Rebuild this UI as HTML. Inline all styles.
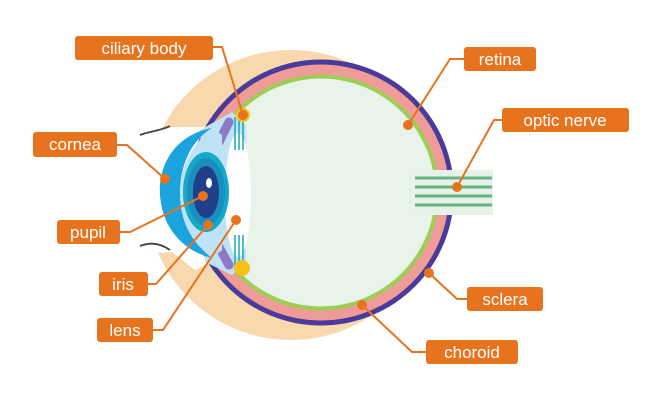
<!DOCTYPE html>
<html><head><meta charset="utf-8"><style>
html,body{margin:0;padding:0;background:#fff;}
svg{display:block;}
text{font-family:"Liberation Sans",sans-serif;font-size:17px;fill:#fff;}
</style></head><body>
<svg width="650" height="401" viewBox="0 0 650 401" xmlns="http://www.w3.org/2000/svg">
<!-- beige -->
<circle cx="291" cy="195" r="145" fill="#f8d8ad"/>
<polygon points="120,142 150,134 172,127 205,127 215,260 195,270 172,252 120,255" fill="#fff"/>
<!-- eye layers -->
<circle cx="321" cy="192.5" r="133" fill="#4a3a9a"/>
<circle cx="321" cy="192.5" r="128" fill="#ef9c98"/>
<circle cx="321" cy="192.5" r="118" fill="#9ccd54"/>
<circle cx="321" cy="192.5" r="114" fill="#e8f3ea"/>
<!-- optic nerve -->
<rect x="415" y="170" width="78" height="45" fill="#e6f2e8"/>
<rect x="415" y="176.5" width="77" height="3" fill="#66b483"/>
<rect x="415" y="185.5" width="77" height="3" fill="#66b483"/>
<rect x="415" y="194.5" width="77" height="3" fill="#66b483"/>
<rect x="415" y="203.5" width="77" height="3" fill="#66b483"/>
<!-- front light-blue zone -->
<path d="M200,130 L232,112 L246,125 L246,262 L232,275 L205,262 Z" fill="#bfe2f5"/>
<!-- lens white -->
<ellipse cx="238" cy="195" rx="13" ry="62" fill="#fff"/>
<!-- ciliary purple bands -->
<line x1="229" y1="122" x2="215" y2="150" stroke="#8c7ac6" stroke-width="9" stroke-linecap="round"/>
<line x1="215" y1="240" x2="229" y2="265" stroke="#8c7ac6" stroke-width="9" stroke-linecap="round"/>
<!-- ciliary fibers -->
<g stroke="#18a8b8" stroke-width="1.5">
<line x1="235" y1="117" x2="235" y2="150"/><line x1="239" y1="117" x2="239" y2="150"/><line x1="243" y1="117" x2="243" y2="150"/>
<line x1="235" y1="235" x2="235" y2="268"/><line x1="239" y1="235" x2="239" y2="268"/><line x1="243" y1="235" x2="243" y2="268"/>
</g>
<circle cx="243" cy="115" r="7" fill="#f5c21c"/>
<circle cx="242" cy="268" r="8" fill="#f5c21c"/>
<!-- cornea -->
<path d="M212,128 C175,135 158,165 160,195 C162,225 180,250 212,258 C195,245 180,225 180,193 C180,160 195,138 212,128 Z" fill="#1aa3dd"/>
<path d="M212,128 C198,140 180,160 180,193 C180,225 195,245 212,258 L222,250 L222,135 Z" fill="#bfe2f5"/>
<!-- iris -->
<ellipse cx="206" cy="192" rx="23" ry="40" fill="#13a9c9"/>
<ellipse cx="206" cy="192" rx="19" ry="34" fill="#1a8fbf"/>
<ellipse cx="206" cy="192" rx="13" ry="26" fill="#1f3f8a"/>
<ellipse cx="209" cy="183" rx="3" ry="5" fill="#fff"/>
<!-- eyelashes -->
<path d="M140,135 C150,131 160,131 170,126" stroke="#444" stroke-width="1.8" fill="none"/>
<path d="M140,246 C150,242 160,243 170,250" stroke="#444" stroke-width="1.8" fill="none"/>
<!-- connectors -->
<g stroke="#e8731f" stroke-width="2" fill="none">
<polyline points="213,47 222,47 243,115"/>
<polyline points="117,145 127,145 165,179"/>
<polyline points="120,232 130,232 203,196"/>
<polyline points="148,284 156,284 208,225"/>
<polyline points="153,330 163,330 236,220"/>
<polyline points="464,59 450,59 408,125"/>
<polyline points="502,120 494,120 457,187"/>
<polyline points="467,299 457,299 429,273"/>
<polyline points="426,352 412,352 362,305"/>
</g>
<g fill="#e8731f">
<circle cx="243" cy="115" r="5"/><circle cx="165" cy="179" r="5"/><circle cx="203" cy="196" r="5"/>
<circle cx="208" cy="225" r="5"/><circle cx="236" cy="220" r="5"/><circle cx="408" cy="125" r="5"/>
<circle cx="457" cy="187" r="5"/><circle cx="429" cy="273" r="5"/><circle cx="362" cy="305" r="5"/>
</g>
<!-- labels -->
<g fill="#e8731f">
<rect x="75" y="36" width="138" height="24" rx="3"/>
<rect x="33" y="132" width="84" height="25" rx="3"/>
<rect x="57" y="220" width="63" height="24" rx="3"/>
<rect x="99" y="272" width="49" height="24" rx="3"/>
<rect x="97" y="318" width="56" height="24" rx="3"/>
<rect x="464" y="47" width="72" height="24" rx="3"/>
<rect x="502" y="108" width="127" height="24" rx="3"/>
<rect x="467" y="287" width="76" height="24" rx="3"/>
<rect x="426" y="340" width="92" height="24" rx="3"/>
</g>
<g text-anchor="middle">
<text x="144" y="54">ciliary body</text>
<text x="75" y="150">cornea</text>
<text x="88" y="238">pupil</text>
<text x="123" y="290">iris</text>
<text x="125" y="336">lens</text>
<text x="500" y="65">retina</text>
<text x="565" y="126">optic nerve</text>
<text x="505" y="305">sclera</text>
<text x="472" y="358">choroid</text>
</g>
</svg>
</body></html>
